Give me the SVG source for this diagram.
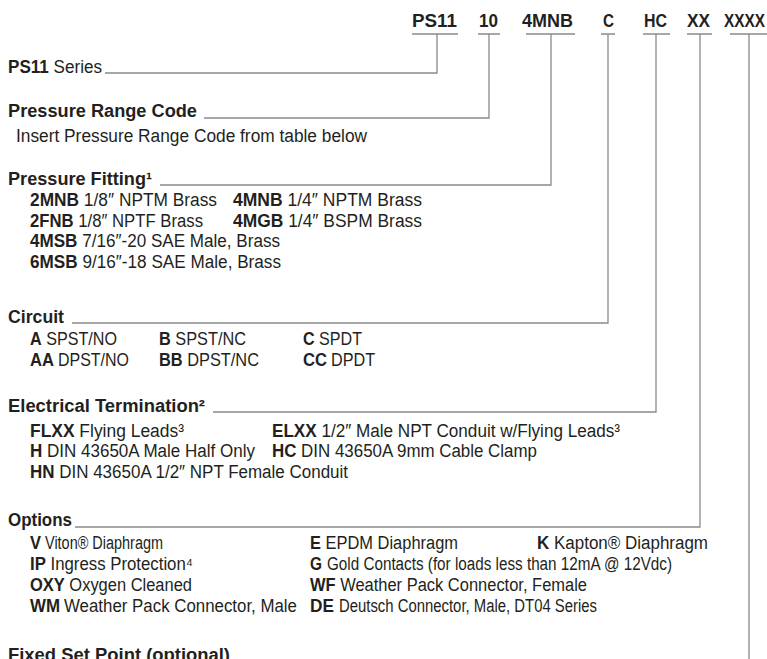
<svg xmlns="http://www.w3.org/2000/svg" width="767" height="659" viewBox="0 0 767 659">
<style>
text{font-family:"Liberation Sans Narrow","Liberation Sans",Arial,sans-serif;font-size:18px;fill:#231f20}
.b{font-weight:bold}
.h{font-size:18.5px}
.s{font-size:17.5px}
.ln{stroke:#8a8a8a;stroke-width:1.3;fill:none}
</style>
<rect width="767" height="659" fill="#ffffff"/>
<g id="connectors">
<path class="ln" d="M412 34H458M437 34V73H105"/>
<path class="ln" d="M478 34H500M489 34V118H204"/>
<path class="ln" d="M526 34H575M551 34V185H160"/>
<path class="ln" d="M601 34H615M608 34V323H72"/>
<path class="ln" d="M643 34H670M656 34V412H213"/>
<path class="ln" d="M687 34H712M700 34V527H75"/>
<path class="ln" d="M730 34H767M749 34V659"/>
</g>
<g id="code">
<text class="b h" x="412" y="27" textLength="45" lengthAdjust="spacingAndGlyphs">PS11</text>
<text class="b h" x="479" y="27" textLength="19" lengthAdjust="spacingAndGlyphs">10</text>
<text class="b h" x="522" y="27" textLength="51" lengthAdjust="spacingAndGlyphs">4MNB</text>
<text class="b h" x="603" y="27" textLength="11" lengthAdjust="spacingAndGlyphs">C</text>
<text class="b h" x="644" y="27" textLength="23" lengthAdjust="spacingAndGlyphs">HC</text>
<text class="b h" x="687" y="27" textLength="23" lengthAdjust="spacingAndGlyphs">XX</text>
<text class="b h" x="724" y="27" textLength="41" lengthAdjust="spacingAndGlyphs">XXXX</text>
</g>
<g id="series">
<text x="8" y="73" textLength="94" lengthAdjust="spacingAndGlyphs"><tspan class="b">PS11</tspan> Series</text>
</g>
<g id="pressure-range">
<text class="b" x="8" y="117" textLength="189" lengthAdjust="spacingAndGlyphs">Pressure Range Code</text>
<text x="16" y="142" textLength="351" lengthAdjust="spacingAndGlyphs">Insert Pressure Range Code from table below</text>
</g>
<g id="pressure-fitting">
<text class="b" x="8" y="185" textLength="144" lengthAdjust="spacingAndGlyphs">Pressure Fitting¹</text>
<text x="30" y="206" textLength="187" lengthAdjust="spacingAndGlyphs"><tspan class="b">2MNB</tspan> 1/8″ NPTM Brass</text>
<text x="233" y="206" textLength="189" lengthAdjust="spacingAndGlyphs"><tspan class="b">4MNB</tspan> 1/4″ NPTM Brass</text>
<text x="30" y="226.5" textLength="173" lengthAdjust="spacingAndGlyphs"><tspan class="b">2FNB</tspan> 1/8″ NPTF Brass</text>
<text x="233" y="226.5" textLength="189" lengthAdjust="spacingAndGlyphs"><tspan class="b">4MGB</tspan> 1/4″ BSPM Brass</text>
<text x="30" y="247" textLength="250" lengthAdjust="spacingAndGlyphs"><tspan class="b">4MSB</tspan> 7/16″-20 SAE Male, Brass</text>
<text x="30" y="267.5" textLength="251" lengthAdjust="spacingAndGlyphs"><tspan class="b">6MSB</tspan> 9/16″-18 SAE Male, Brass</text>
</g>
<g id="circuit">
<text class="b" x="8" y="323" textLength="56" lengthAdjust="spacingAndGlyphs">Circuit</text>
<text x="30" y="345" textLength="87" lengthAdjust="spacingAndGlyphs"><tspan class="b">A</tspan> SPST/NO</text>
<text x="159" y="345" textLength="87" lengthAdjust="spacingAndGlyphs"><tspan class="b">B</tspan> SPST/NC</text>
<text x="303" y="345" textLength="59" lengthAdjust="spacingAndGlyphs"><tspan class="b">C</tspan> SPDT</text>
<text class="b" x="30" y="366" textLength="24" lengthAdjust="spacingAndGlyphs">AA</text>
<text x="58" y="366" textLength="71" lengthAdjust="spacingAndGlyphs">DPST/NO</text>
<text x="159" y="366" textLength="100" lengthAdjust="spacingAndGlyphs"><tspan class="b">BB</tspan> DPST/NC</text>
<text class="b" x="303" y="366" textLength="24" lengthAdjust="spacingAndGlyphs">CC</text>
<text x="331" y="366" textLength="44" lengthAdjust="spacingAndGlyphs">DPDT</text>
</g>
<g id="electrical-termination">
<text class="b" x="8" y="412" textLength="197" lengthAdjust="spacingAndGlyphs">Electrical Termination²</text>
<text x="30" y="436.5" textLength="154" lengthAdjust="spacingAndGlyphs"><tspan class="b">FLXX</tspan> Flying Leads³</text>
<text x="272" y="436.5" textLength="348" lengthAdjust="spacingAndGlyphs"><tspan class="b">ELXX</tspan> 1/2″ Male NPT Conduit w/Flying Leads³</text>
<text x="30" y="457" textLength="225" lengthAdjust="spacingAndGlyphs"><tspan class="b">H</tspan> DIN 43650A Male Half Only</text>
<text x="272" y="457" textLength="265" lengthAdjust="spacingAndGlyphs"><tspan class="b">HC</tspan> DIN 43650A 9mm Cable Clamp</text>
<text x="30" y="477.5" textLength="318" lengthAdjust="spacingAndGlyphs"><tspan class="b">HN</tspan> DIN 43650A 1/2″ NPT Female Conduit</text>
</g>
<g id="options">
<text class="b" x="8" y="526" textLength="64" lengthAdjust="spacingAndGlyphs">Options</text>
<text class="b" x="30" y="549" textLength="11" lengthAdjust="spacingAndGlyphs">V</text>
<text x="45" y="549" textLength="118" lengthAdjust="spacingAndGlyphs">Viton® Diaphragm</text>
<text x="310" y="549" textLength="148" lengthAdjust="spacingAndGlyphs"><tspan class="b">E</tspan> EPDM Diaphragm</text>
<text x="537" y="549" textLength="171" lengthAdjust="spacingAndGlyphs"><tspan class="b">K</tspan> Kapton® Diaphragm</text>
<text x="30" y="570" textLength="163" lengthAdjust="spacingAndGlyphs"><tspan class="b">IP</tspan> Ingress Protection⁴</text>
<text class="b" x="310" y="570" textLength="12" lengthAdjust="spacingAndGlyphs">G</text>
<text x="327" y="570" textLength="345" lengthAdjust="spacingAndGlyphs">Gold Contacts (for loads less than 12mA @ 12Vdc)</text>
<text x="30" y="591" textLength="162" lengthAdjust="spacingAndGlyphs"><tspan class="b">OXY</tspan> Oxygen Cleaned</text>
<text x="310" y="591" textLength="277" lengthAdjust="spacingAndGlyphs"><tspan class="b">WF</tspan> Weather Pack Connector, Female</text>
<text class="b" x="30" y="612" textLength="30" lengthAdjust="spacingAndGlyphs">WM</text>
<text class="s" x="64" y="612" textLength="233" lengthAdjust="spacingAndGlyphs">Weather Pack Connector, Male</text>
<text class="b" x="310" y="612" textLength="24" lengthAdjust="spacingAndGlyphs">DE</text>
<text x="339" y="612" textLength="258" lengthAdjust="spacingAndGlyphs">Deutsch Connector, Male, DT04 Series</text>
</g>
<g id="fixed-set-point">
<text class="b" x="8" y="661" textLength="222" lengthAdjust="spacingAndGlyphs">Fixed Set Point (optional)</text>
</g>
</svg>
